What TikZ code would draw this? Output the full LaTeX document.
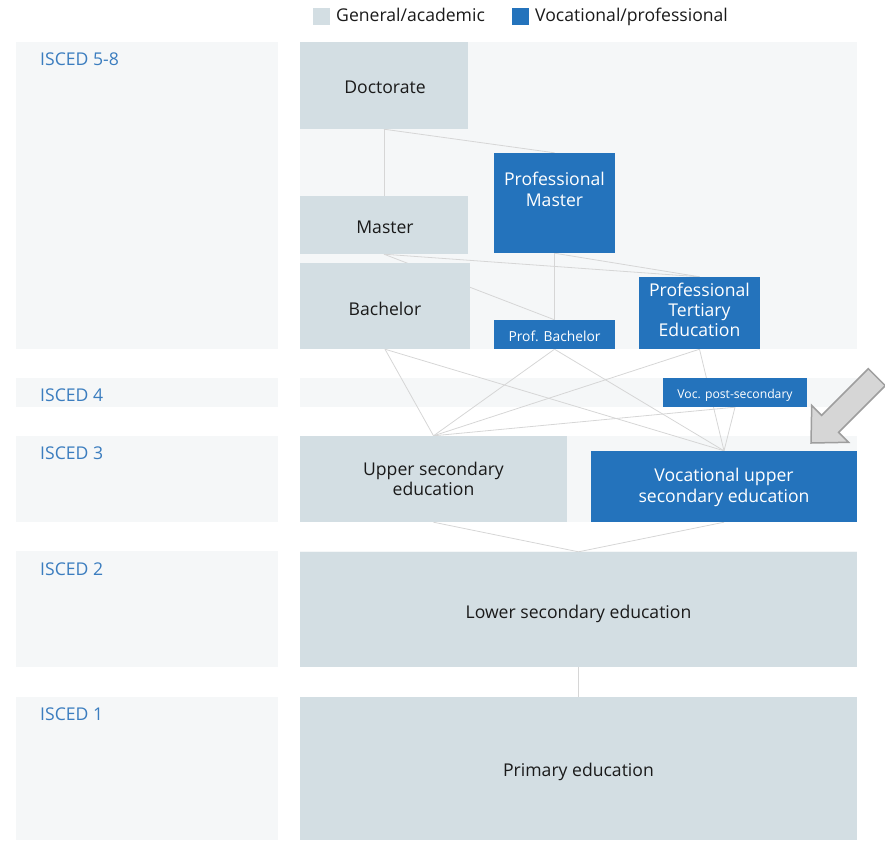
\documentclass[tikz,border=0pt]{standalone}
\usepackage{fontspec}
\setmainfont{Open Sans}
\definecolor{genc}{HTML}{D3DEE3}
\definecolor{vocc}{HTML}{2473BC}
\definecolor{bandc}{HTML}{F5F7F8}
\definecolor{linec}{HTML}{D6D6D6}
\definecolor{txt}{HTML}{1A1A1A}
\definecolor{iscedc}{HTML}{3B7DBF}
\definecolor{arrfill}{HTML}{D6D6D6}
\definecolor{arrdraw}{HTML}{9E9E9E}
\newcommand\mainfs{\fontsize{17.6}{20.3}\selectfont}
\newcommand\firstln{\rule{0pt}{14pt}}
\pgfdeclarelayer{bands}
\pgfdeclarelayer{links}
\pgfsetlayers{bands,links,main}
\begin{document}
\begin{tikzpicture}[x=1pt,y=-1pt,
  box/.style={rectangle, inner sep=0pt},
  gen/.style={box, fill=genc},
  voc/.style={box, fill=vocc},
  gtxt/.style={inner sep=0pt, align=center, font=\mainfs, text=txt},
  vtxt/.style={inner sep=0pt, align=center, font=\mainfs, text=white},
  conn/.style={draw=linec, line width=0.8pt},
  isced/.style={anchor=base west, text=iscedc, font=\mainfs, inner sep=0pt},
  legtext/.style={anchor=base west, text=txt, font=\mainfs, inner sep=0pt}]
\useasboundingbox (0,0) rectangle (885,840);

% bands
\begin{pgfonlayer}{bands}
\fill[bandc] (16,42) rectangle (278,349);
\fill[bandc] (300,42) rectangle (857,349);
\fill[bandc] (16,378) rectangle (278,407);
\fill[bandc] (300,378) rectangle (857,407);
\fill[bandc] (16,436) rectangle (278,522);
\fill[bandc] (300,436) rectangle (857,522);
\fill[bandc] (16,551) rectangle (278,667);
\fill[bandc] (300,551) rectangle (857,667);
\fill[bandc] (16,697) rectangle (278,840);
\fill[bandc] (300,697) rectangle (857,840);
\end{pgfonlayer}

% legend
\fill[genc] (313,8) rectangle (330,25);
\fill[vocc] (512,8) rectangle (529,25);
\node[legtext] (lg) at (336,22) {General/academic};
\node[legtext] (lv) at (535,22) {Vocational/professional};

% ISCED labels
\node[isced] (i58) at (40,66) {ISCED 5-8};
\node[isced] (i4) at (40,401.7) {ISCED 4};
\node[isced] (i3) at (40,459.3) {ISCED 3};
\node[isced] (i2) at (40,575.5) {ISCED 2};
\node[isced] (i1) at (40,720.5) {ISCED 1};

% boxes
\node[gen, minimum width=168pt, minimum height=87pt] (doc) at (384,85.5) {};
\node[voc, minimum width=121pt, minimum height=100pt] (pm) at (554.5,203) {};
\node[gen, minimum width=168pt, minimum height=58pt] (mas) at (384,225) {};
\node[gen, minimum width=170pt, minimum height=86pt] (bac) at (385,306) {};
\node[voc, minimum width=121pt, minimum height=29pt] (pb) at (554.5,334.5) {};
\node[voc, minimum width=121pt, minimum height=72pt] (pte) at (699.5,313) {};
\node[voc, minimum width=144pt, minimum height=29pt] (vps) at (735,392.5) {};
\node[gen, minimum width=267pt, minimum height=86pt] (ups) at (433.5,479) {};
\node[voc, minimum width=266pt, minimum height=71pt] (vus) at (724,486.5) {};
\node[gen, minimum width=557pt, minimum height=115pt] (low) at (578.5,609.5) {};
\node[gen, minimum width=557pt, minimum height=143pt] (pri) at (578.5,768.5) {};

% box texts
\node[gtxt, anchor=base] (doct) at (385,93.3) {Doctorate};
\node[vtxt, anchor=north] (pmt) at (554.5,171.7) {\firstln Professional\\Master};
\node[gtxt, anchor=base] (mast) at (385,233.3) {Master};
\node[gtxt, anchor=base] (bact) at (385,315) {Bachelor};
\node[vtxt, anchor=base, font=\fontsize{13.8}{16}\selectfont] (pbt) at (554.5,341.7) {Prof. Bachelor};
\node[vtxt, anchor=north] (ptet) at (699.5,282) {\firstln Professional\\Tertiary\\Education};
\node[vtxt, anchor=base, font=\fontsize{12.2}{14}\selectfont] (vpst) at (735,398.3) {Voc. post-secondary};
\node[gtxt, anchor=north] (upst) at (433.5,461) {\firstln Upper secondary\\education};
\node[vtxt, anchor=north] (vust) at (724,467.7) {\firstln Vocational upper\\secondary education};
\node[gtxt, anchor=base] (lowt) at (578.5,618.3) {Lower secondary education};
\node[gtxt, anchor=base] (prit) at (578.5,776.7) {Primary education};

% connectors
\begin{pgfonlayer}{links}
\draw[conn] (doc.south) -- (mas.north);
\draw[conn] (doc.south) -- (pm.north);
\draw[conn] (mas.south) -- (pte.north);
\draw[conn] (mas.south) -- (pb.north);
\draw[conn] (pm.south) -- (pb.north);
\draw[conn] (pm.south) -- (pte.north);
\draw[conn] (bac.south) -- (ups.north);
\draw[conn] (bac.south) -- (vus.north);
\draw[conn] (pb.south) -- (ups.north);
\draw[conn] (pb.south) -- (vus.north);
\draw[conn] (pte.south) -- (ups.north);
\draw[conn] (pte.south) -- (vus.north);
\draw[conn] (vps.south) -- (ups.north);
\draw[conn] (vps.south) -- (vus.north);
\draw[conn] (ups.south) -- (low.north);
\draw[conn] (vus.south) -- (low.north);
\draw[conn] (low.south) -- (pri.north);
\end{pgfonlayer}

% big arrow
\draw[fill=arrfill, draw=arrdraw, line width=1.5pt, line join=miter]
  (811,443) -- (811.7,405.5) -- (821.6,415.4) -- (868.3,368.7)
  -- (885.3,385.7) -- (838.6,432.4) -- (848.5,442.3) -- cycle;
\end{tikzpicture}
\end{document}
